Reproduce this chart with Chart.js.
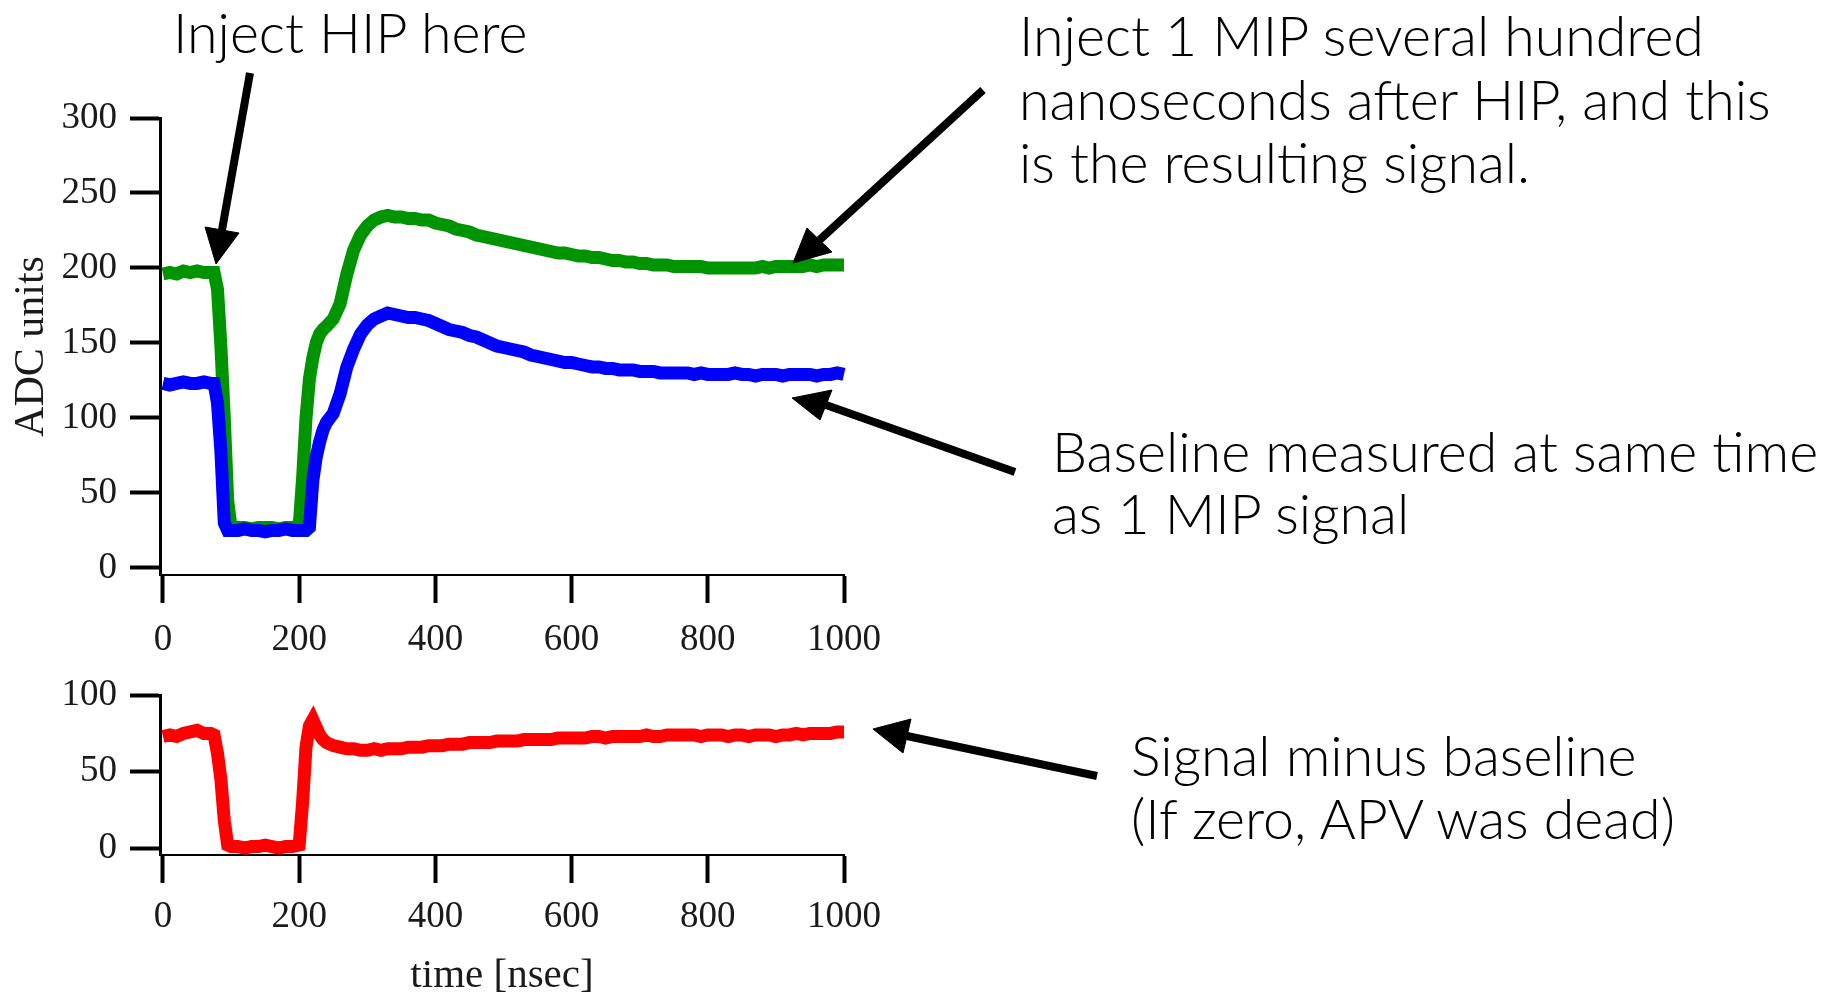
<!DOCTYPE html>
<html lang="en">
<head>
<meta charset="utf-8">
<title>APV HIP recovery</title>
<script src="https://cdn.jsdelivr.net/npm/chart.js@4.4.1/dist/chart.umd.min.js"></script>
<style>
    html, body { margin: 0; padding: 0; background: #fff; }
    #page { position: relative; width: 1845px; height: 1001px; overflow: hidden; }
    #signalChart { position: absolute; left: 0; top: 0; }
    #diffChart { position: absolute; left: 0; top: 660px; }
    #notes { position: absolute; left: 0; top: 0; pointer-events: none; }
    #notes text { font-family: Lato, "Open Sans", sans-serif; font-weight: 300; font-size: 55.5px; fill: #000; }
</style>
</head>
<body>
<div id="page">
    <canvas id="signalChart" width="900" height="660"></canvas>
    <canvas id="diffChart" width="900" height="341"></canvas>
    <svg id="notes" width="1845" height="1001">
        <text x="173" y="53">Inject HIP here</text>
        <text x="1019" y="56">Inject 1 MIP several hundred</text>
        <text x="1019" y="120">nanoseconds after HIP, and this</text>
        <text x="1019" y="183">is the resulting signal.</text>
        <text x="1052" y="472">Baseline measured at same time</text>
        <text x="1052" y="534">as 1 MIP signal</text>
        <text x="1131" y="776">Signal minus baseline</text>
        <text x="1131" y="839">(If zero, APV was dead)</text>
        <g id="arrows" fill="#000" stroke="#000"></g>
    </svg>
</div>
<script>
(function() {
    'use strict';

    // time axis [nsec], finer steps around the HIP edges
    const times = [
        0, 10, 20, 30, 40, 50, 60, 70,
        75, 80, 85, 90, 95, 100,
        110, 120, 130, 140, 150, 160, 170, 180, 190, 200,
        205, 210, 215, 220, 225, 230, 235, 240,
        250, 260, 270, 280, 290, 300, 310, 320, 330, 340,
        350, 360, 370, 380, 390, 400, 410, 420, 430, 440,
        450, 460, 470, 480, 490, 500, 510, 520, 530, 540,
        550, 560, 570, 580, 590, 600, 610, 620, 630, 640,
        650, 660, 670, 680, 690, 700, 710, 720, 730, 740,
        750, 760, 770, 780, 790, 800, 810, 820, 830, 840,
        850, 860, 870, 880, 890, 900, 910, 920, 930, 940,
        950, 960, 970, 980, 990, 1000
    ];

    // 1 MIP signal (ADC units)
    const mipSignal = [
        196, 197, 196, 198, 197, 198, 197, 197,
        197, 186, 148, 100, 45, 27,
        27, 27, 26, 27, 27, 27, 26, 27, 27, 28,
        60, 100, 126, 140, 150, 156, 159, 161,
        166, 176, 196, 212, 222, 228, 232, 234, 235, 234,
        234, 233, 233, 232, 232, 230, 229, 228, 226, 225,
        224, 222, 221, 220, 219, 218, 217, 216, 215, 214,
        213, 212, 211, 210, 210, 209, 208, 208, 207, 207,
        206, 205, 205, 204, 204, 203, 203, 202, 202, 202,
        201, 201, 201, 201, 201, 200, 200, 200, 200, 200,
        200, 200, 200, 201, 200, 201, 201, 201, 201, 201,
        202, 201, 202, 202, 202, 202
    ];

    // baseline taken at the same time (ADC units)
    const baseline = [
        123, 122, 123, 124, 123, 123, 124, 123,
        123, 110, 78, 30, 25, 25,
        25, 26, 25, 25, 24, 25, 25, 26, 25, 25,
        25, 25, 27, 58, 74, 84, 92, 97,
        103, 116, 134, 146, 156, 162, 166, 168, 170, 169,
        168, 167, 167, 166, 165, 163, 161, 159, 158, 157,
        155, 154, 152, 150, 148, 147, 146, 145, 144, 142,
        141, 140, 139, 138, 137, 137, 136, 135, 134, 134,
        133, 133, 132, 132, 132, 131, 131, 131, 130, 130,
        130, 130, 130, 129, 130, 129, 129, 129, 129, 130,
        129, 129, 128, 129, 129, 129, 128, 129, 129, 129,
        129, 128, 129, 129, 130, 129
    ];

    // signal minus baseline
    const difference = [
        73, 74, 73, 75, 76, 77, 75, 75,
        74, 62, 45, 18, 2, 1,
        1, 0, 1, 1, 2, 1, 0, 1, 1, 2,
        30, 66, 80, 84, 79, 74, 71, 69,
        67, 66, 65, 65, 64, 64, 65, 64, 65, 65,
        65, 66, 66, 66, 67, 67, 67, 68, 68, 68,
        69, 69, 69, 69, 70, 70, 70, 70, 71, 71,
        71, 71, 71, 72, 72, 72, 72, 72, 73, 73,
        72, 73, 73, 73, 73, 73, 74, 73, 73, 74,
        74, 74, 74, 74, 73, 74, 74, 74, 73, 74,
        74, 73, 74, 74, 74, 73, 74, 74, 75, 74,
        75, 75, 75, 75, 76, 76
    ];

    const timeTicks = [0, 200, 400, 600, 800, 1000];
    const adcTicks = [0, 50, 100, 150, 200, 250, 300];
    const diffTicks = [0, 50, 100];

    const serif = '"Liberation Serif", "DejaVu Serif", serif';

    document.addEventListener('DOMContentLoaded', () => {
        drawSignalChart();
        drawDiffChart();
        drawArrows();
    });

    function toPoints(values) {
        return values.map((v, i) => ({ x: times[i], y: v }));
    }

    function lineSet(values, color, order) {
        return {
            data: toPoints(values),
            borderColor: color,
            backgroundColor: color,
            borderWidth: 13,
            pointRadius: 0,
            tension: 0,
            clip: false,
            order: order
        };
    }

    // shared axis setup: fixed box sizes so both panels line up
    function axes(cfg) {
        return {
            x: {
                type: 'linear',
                min: -4.4,
                max: 1000,
                afterBuildTicks: (scale) => { scale.ticks = timeTicks.map(v => ({ value: v })); },
                afterFit: (scale) => { scale.height = cfg.xHeight; },
                ticks: {
                    padding: cfg.xPad,
                    color: '#1a1a1a',
                    font: { family: serif, size: 37 },
                    maxRotation: 0,
                    callback: (value) => String(value)
                },
                grid: {
                    drawOnChartArea: false,
                    tickLength: 28,
                    tickWidth: 4,
                    tickColor: '#000'
                },
                border: { color: '#000', width: 2 },
                title: cfg.xTitle ? {
                    display: true,
                    text: cfg.xTitle,
                    color: '#1a1a1a',
                    font: { family: serif, size: 41 },
                    padding: { top: 0, bottom: 0 }
                } : { display: false }
            },
            y: {
                type: 'linear',
                min: cfg.yMin,
                max: cfg.yMax,
                afterBuildTicks: (scale) => { scale.ticks = cfg.yTicks.map(v => ({ value: v })); },
                afterFit: (scale) => { scale.width = 160; },
                ticks: {
                    padding: 13,
                    color: '#1a1a1a',
                    font: { family: serif, size: 37 },
                    callback: (value) => String(value)
                },
                grid: {
                    drawOnChartArea: false,
                    tickLength: 30,
                    tickWidth: 4,
                    tickColor: '#000'
                },
                border: { color: '#000', width: 3 },
                title: cfg.yTitle ? {
                    display: true,
                    text: cfg.yTitle,
                    color: '#1a1a1a',
                    font: { family: serif, size: 42 },
                    padding: { top: 7, bottom: 0 }
                } : { display: false }
            }
        };
    }

    function baseOptions(padding, scales) {
        return {
            responsive: false,
            animation: false,
            events: [],
            layout: { padding: padding },
            plugins: { legend: { display: false }, tooltip: { enabled: false } },
            scales: scales
        };
    }

    function drawSignalChart() {
        const ctx = document.getElementById('signalChart');
        new Chart(ctx, {
            type: 'line',
            data: {
                datasets: [
                    lineSet(baseline, '#0000ff', 1),
                    lineSet(mipSignal, '#009400', 2)
                ]
            },
            options: baseOptions(
                { top: 118, right: 56, bottom: 0, left: 0 },
                axes({ xHeight: 85, xPad: 15, yMin: -4.7, yMax: 300, yTicks: adcTicks, yTitle: 'ADC units' })
            )
        });
    }

    function drawDiffChart() {
        const ctx = document.getElementById('diffChart');
        new Chart(ctx, {
            type: 'line',
            data: { datasets: [lineSet(difference, '#ff0000', 1)] },
            options: baseOptions(
                { top: 32, right: 56, bottom: 0, left: 0 },
                axes({ xHeight: 146, xPad: 12, yMin: -4.5, yMax: 100, yTicks: diffTicks, xTitle: 'time [nsec]' })
            )
        });
    }

    // callout arrows: tail, tip and the two back corners of the head
    const arrows = [
        { tail: [250, 73], tip: [216, 264], head: [[205, 227], [239, 233]] },
        { tail: [983, 90], tip: [793, 263], head: [[807, 228], [832, 252]] },
        { tail: [1015, 472], tip: [792, 398], head: [[832, 390], [820, 420]] },
        { tail: [1097, 776], tip: [873, 729], head: [[911, 719], [903, 753]] }
    ];

    function drawArrows() {
        const g = document.getElementById('arrows');
        const ns = 'http://www.w3.org/2000/svg';
        arrows.forEach(a => {
            const mid = [(a.head[0][0] + a.head[1][0]) / 2, (a.head[0][1] + a.head[1][1]) / 2];
            const line = document.createElementNS(ns, 'line');
            line.setAttribute('x1', a.tail[0]);
            line.setAttribute('y1', a.tail[1]);
            line.setAttribute('x2', mid[0]);
            line.setAttribute('y2', mid[1]);
            line.setAttribute('stroke-width', 8);
            g.appendChild(line);

            const head = document.createElementNS(ns, 'polygon');
            head.setAttribute('points', [a.tip, a.head[0], a.head[1]].map(p => p.join(',')).join(' '));
            head.setAttribute('stroke-width', 1);
            g.appendChild(head);
        });
    }

})();
</script>
</body>
</html>
